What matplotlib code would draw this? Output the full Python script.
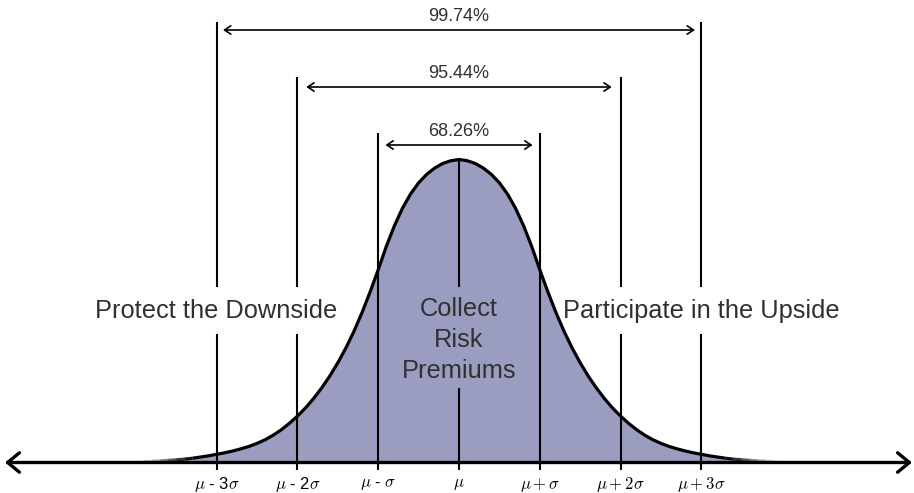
import numpy as np
import matplotlib
matplotlib.use('Agg')
import matplotlib.pyplot as plt
from matplotlib.collections import LineCollection

plt.rcParams['font.family'] = ['Liberation Sans', 'DejaVu Sans']
plt.rcParams['mathtext.fontset'] = 'cm'

# curve height (peak = 1) read at 0.1 sigma steps, right half (0 .. 4 sigma)
half_s = [0.0, 0.1, 0.2, 0.3, 0.4, 0.5, 0.6, 0.7, 0.8, 0.9,
          1.0, 1.1, 1.2, 1.3, 1.4, 1.5, 1.6, 1.7, 1.8, 1.9,
          2.0, 2.1, 2.2, 2.3, 2.4, 2.5, 2.6, 2.7, 2.8, 2.9,
          3.0, 3.1, 3.2, 3.3, 3.4, 3.5, 3.6, 3.7, 3.8, 3.9, 4.0]
half_h = [1.000, 0.996, 0.987, 0.972, 0.951, 0.923, 0.886, 0.839, 0.781, 0.713,
          0.636, 0.563, 0.495, 0.433, 0.378, 0.329, 0.285, 0.246, 0.211, 0.180,
          0.153, 0.129, 0.108, 0.090, 0.075, 0.063, 0.053, 0.045, 0.038, 0.032,
          0.027, 0.022, 0.018, 0.014, 0.011, 0.009, 0.007, 0.005, 0.004, 0.003, 0.002]

sigma_pos = [-3, -2, -1, 0, 1, 2, 3]
tick_labels = [r'$\mu$ - 3$\sigma$', r'$\mu$ - 2$\sigma$', r'$\mu$ - $\sigma$', r'$\mu$',
               r'$\mu + \sigma$', r'$\mu + 2\sigma$', r'$\mu + 3\sigma$']

spans = [3, 2, 1]
span_labels = ['99.74%', '95.44%', '68.26%']

zone_labels = ['Protect the Downside', 'Collect\nRisk\nPremiums', 'Participate in the Upside']
zone_pos = [-3, 0, 3]

FILL = '#9b9dc0'
TEXT = '#303030'

# mirror half curve
s = np.array([-v for v in half_s[:0:-1]] + half_s)
h = np.array(half_h[:0:-1] + half_h)

# pixel geometry of the reference (sigma = 80.8 px, peak = 303 px)
PX_SIG = 80.8
PX_PEAK = 303.0
BASE = 462.5


def py(y):
    return (BASE - y) / PX_PEAK


fig = plt.figure(figsize=(9.14, 4.93), dpi=100)
ax = fig.add_axes([0, 0, 1, 1])
ax.set_xlim(-459 / PX_SIG, (914 - 459) / PX_SIG)
ax.set_ylim(py(493), py(0))
ax.axis('off')

ax.fill_between(s, 0, h, color=FILL, lw=0, zorder=1)

# vertical sigma lines, with gaps where text sits
line_tops = {1: py(133), 2: py(77), 3: py(22)}
for p in sigma_pos:
    bottom = py(470)
    if p == 0:
        segs = [(py(388), bottom), (1.0, py(287))]
    elif abs(p) == 1:
        segs = [(line_tops[1], bottom)]
    else:
        top = line_tops[abs(p)]
        segs = [(py(334), bottom), (top, py(287))]
    for a, b in segs:
        ax.plot([p, p], [a, b], color='black', lw=1.5, zorder=2, solid_capstyle='butt')

# curve: solid core, tails fading out
core = np.abs(s) <= 3.3
ax.plot(s[core], h[core], color='black', lw=2.3, zorder=3, solid_capstyle='butt')
for side in (-1, 1):
    idx = np.where((np.abs(s) >= 3.3) & (np.sign(s) == side))[0]
    pts = np.column_stack([s[idx], h[idx]])
    segs = np.stack([pts[:-1], pts[1:]], axis=1)
    mid = np.abs((pts[:-1, 0] + pts[1:, 0]) / 2)
    alpha = np.clip((4.0 - mid) / 0.7, 0, 1)
    colors = [(0, 0, 0, a) for a in alpha]
    ax.add_collection(LineCollection(segs, colors=colors, lw=2.3, zorder=3))

# main axis arrow
ax.annotate('', xy=(-454 / PX_SIG, 0), xytext=(453 / PX_SIG, 0),
            arrowprops=dict(arrowstyle='<->, head_length=0.85, head_width=0.7',
                            lw=2.4, color='black', shrinkA=0, shrinkB=0,
                            mutation_scale=10), zorder=4)

# range arrows with percentages
arrow_y = {3: py(30), 2: py(87), 1: py(145)}
label_y = {3: py(16), 2: py(74), 1: py(131)}
inset = {3: 0.08, 2: 0.11, 1: 0.09}
for k, lab in zip(spans, span_labels):
    ax.annotate('', xy=(-k + inset[k], arrow_y[k]), xytext=(k - inset[k], arrow_y[k]),
                arrowprops=dict(arrowstyle='<->, head_length=0.45, head_width=0.3',
                                lw=1.2, color='black', shrinkA=0, shrinkB=0,
                                mutation_scale=10))
    ax.text(0, label_y[k], lab, ha='center', va='center', fontsize=13, color=TEXT)

# zone labels
for x, lab in zip(zone_pos, zone_labels):
    ax.text(x, py(311) if x != 0 else py(340), lab, ha='center', va='center',
            fontsize=18.3, color=TEXT, linespacing=1.35, zorder=5)

# tick labels under axis
for p, lab in zip(sigma_pos, tick_labels):
    ax.text(p, py(485), lab, ha='center', va='center', fontsize=12, color='black')

fig.savefig('out.png', dpi=100)
